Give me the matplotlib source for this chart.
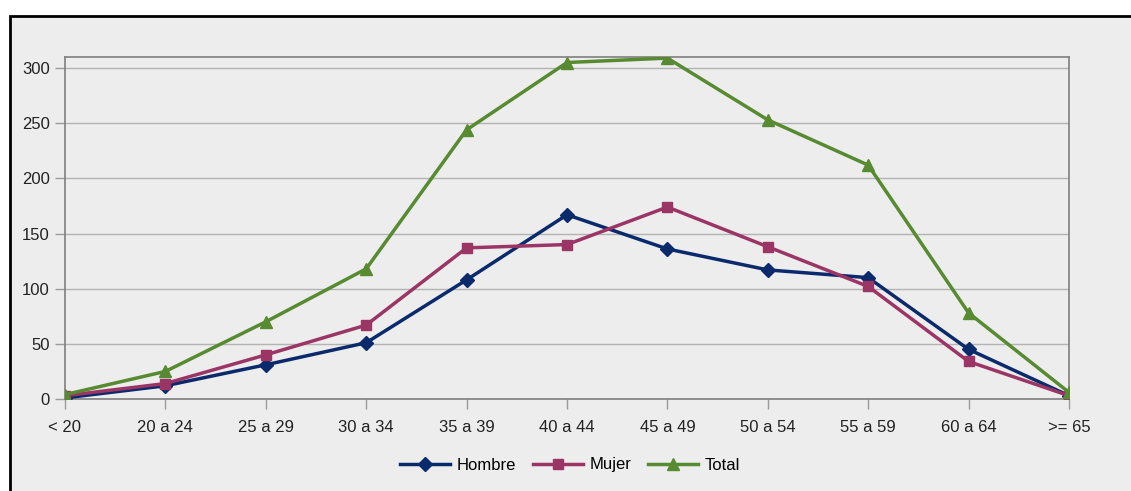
import matplotlib.pyplot as plt
from matplotlib.patches import Rectangle
from matplotlib import rcParams
rcParams['font.family'] = ['Liberation Sans Narrow', 'Liberation Sans', 'DejaVu Sans']

categorias = ["< 20", "20 a 24", "25 a 29", "30 a 34", "35 a 39", "40 a 44",
              "45 a 49", "50 a 54", "55 a 59", "60 a 64", ">= 65"]
hombre = [1, 12, 31, 51, 108, 167, 136, 117, 110, 45, 3]
mujer = [3, 14, 40, 67, 137, 140, 174, 138, 102, 34, 3]
total = [4, 25, 70, 118, 244, 305, 309, 253, 212, 78, 6]

bg = '#ededed'
W, H = 1131, 491
fig = plt.figure(figsize=(W / 100, H / 100), dpi=100, facecolor='white')
fig.patches.append(Rectangle((10 / W, -0.1), 1.2, (H - 16) / H + 0.1,
                             transform=fig.transFigure, facecolor=bg,
                             edgecolor='black', linewidth=2, zorder=-1))
ax = fig.add_axes([65 / W, 1 - 399 / H, (1069 - 65) / W, (399 - 57) / H])
ax.set_facecolor(bg)

x = list(range(len(categorias)))
ax.plot(x, hombre, color='#0b2a6b', lw=2.5, marker='D', ms=7, label='Hombre', zorder=3)
ax.plot(x, mujer, color='#9b3565', lw=2.5, marker='s', ms=7, label='Mujer', zorder=4)
ax.plot(x, total, color='#578a31', lw=2.5, marker='^', ms=8, label='Total', zorder=5)

ax.set_xlim(0, 10)
ax.set_ylim(0, 310)
ax.set_yticks(range(0, 301, 50))
ax.set_xticks(x)
ax.set_xticklabels(categorias)
ax.yaxis.grid(True, color='#b3b3b3', lw=1)
ax.set_axisbelow(True)
for s in ax.spines.values():
    s.set_color('#7f7f7f')
    s.set_linewidth(1.2)
ax.tick_params(axis='both', colors='#9a9a9a', length=7, width=1, labelsize=12,
               labelcolor='#222222')
ax.tick_params(axis='x', pad=8)
ax.tick_params(axis='y', pad=4)

leg = ax.legend(loc='center', bbox_to_anchor=((570 - 65) / (1069 - 65), -(465 - 399) / (399 - 57)),
                ncol=3, frameon=False, fontsize=12, handlelength=3.0, columnspacing=1.0,
                handletextpad=0.4)

fig.savefig('out.png', dpi=100, facecolor='white')
